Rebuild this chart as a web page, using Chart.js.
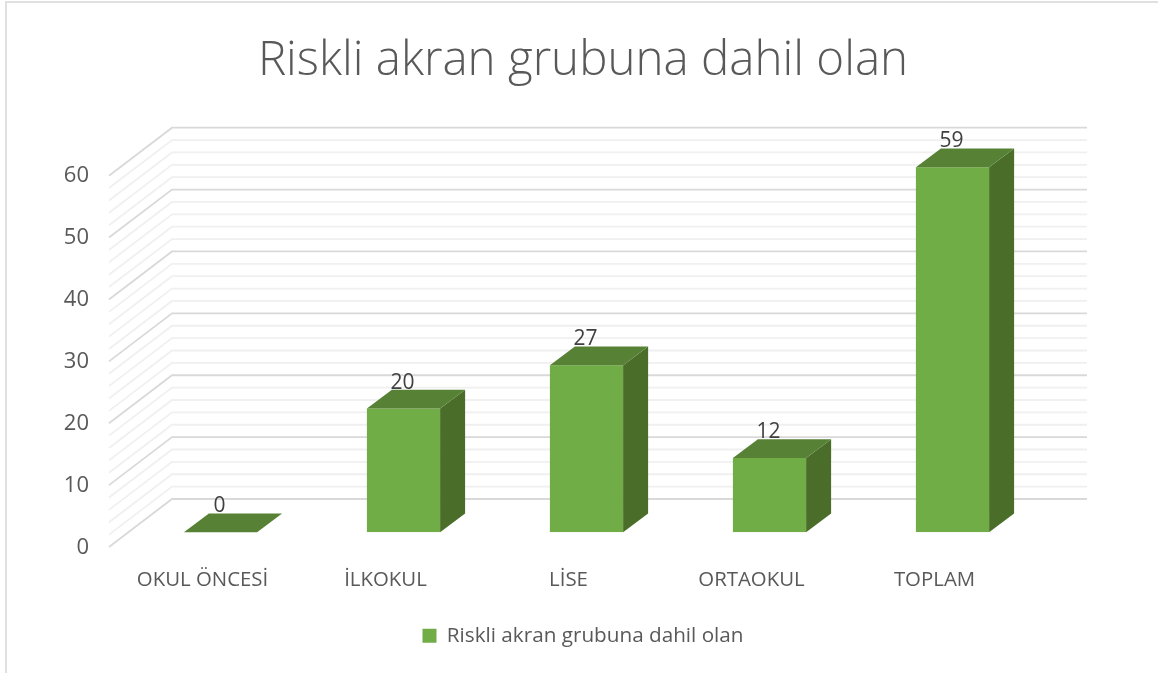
<!DOCTYPE html>
<html lang="tr">
<head>
    <meta charset="UTF-8">
    <title>Riskli akran grubuna dahil olan</title>
    <script src="https://cdn.jsdelivr.net/npm/chart.js"></script>
    <style>
        html, body { margin: 0; padding: 0; background: #fff; overflow: hidden; }
        #wrap { position: relative; width: 1158px; height: 673px; }
        #frame { position: absolute; left: 5px; top: 1px; width: 1153px; height: 672px; border: 2px solid #e0e0e0; border-right: none; border-bottom: none; box-sizing: border-box; }
        canvas { position: absolute; left: 0; top: 0; }
    </style>
</head>
<body>
<div id="wrap">
    <div id="frame"></div>
    <canvas id="riskChart" width="1158" height="673"></canvas>
</div>
<script>
const seriesName = 'Riskli akran grubuna dahil olan';
const categories = ['OKUL ÖNCESİ', 'İLKOKUL', 'LİSE', 'ORTAOKUL', 'TOPLAM'];
const values = [0, 20, 27, 12, 59];
const minorGrid = [2, 4, 6, 8, 12, 14, 16, 18, 22, 24, 26, 28, 32, 34, 36, 38, 42, 44, 46, 48, 52, 54, 56, 58];
const majorGrid = [0, 10, 20, 30, 40, 50, 60];

const fontName = '"Open Sans", sans-serif';
const wall = { dx: 43, dy: -33.3 };   // arka duvar, cubuklara gore
const front = { dx: -20, dy: 14.7 };  // on kenar
const depth = { dx: 25, dy: -18.7 };  // cubuk derinligi
const wallRight = 1087;

// 3D duvar cizgileri
const wallPlugin = {
    id: 'wall',
    beforeDatasetsDraw(chart) {
        const y = chart.scales.y;
        const left = chart.chartArea.left;
        const ctx = chart.ctx;
        const line = (v, color, width) => {
            const py = y.getPixelForValue(v);
            ctx.beginPath();
            ctx.moveTo(left + front.dx, py + front.dy);
            ctx.lineTo(left + wall.dx, py + wall.dy);
            ctx.lineTo(wallRight, py + wall.dy);
            ctx.strokeStyle = color;
            ctx.lineWidth = width;
            ctx.stroke();
        };
        ctx.save();
        minorGrid.forEach(v => line(v, '#f0f0f0', 1.8));
        majorGrid.forEach(v => line(v, '#d9d9d9', 1.8));
        ctx.restore();
    }
};

// cubuklarin ust ve yan yuzleri + deger etiketleri
const barPlugin = {
    id: 'bar3d',
    afterDatasetsDraw(chart) {
        const ctx = chart.ctx;
        const bars = chart.getDatasetMeta(0).data;
        ctx.save();
        bars.forEach((bar, i) => {
            const l = bar.x - bar.width / 2;
            const r = bar.x + bar.width / 2;
            ctx.fillStyle = '#4a6e2a';
            ctx.beginPath();
            ctx.moveTo(r, bar.y);
            ctx.lineTo(r + depth.dx, bar.y + depth.dy);
            ctx.lineTo(r + depth.dx, bar.base + depth.dy);
            ctx.lineTo(r, bar.base);
            ctx.closePath();
            ctx.fill();
            ctx.fillStyle = '#578134';
            ctx.beginPath();
            ctx.moveTo(l, bar.y);
            ctx.lineTo(l + depth.dx, bar.y + depth.dy);
            ctx.lineTo(r + depth.dx, bar.y + depth.dy);
            ctx.lineTo(r, bar.y);
            ctx.closePath();
            ctx.fill();
        });
        ctx.fillStyle = '#404040';
        ctx.font = '21px ' + fontName;
        ctx.textAlign = 'center';
        ctx.textBaseline = 'middle';
        bars.forEach((bar, i) => {
            ctx.fillText(String(values[i]), bar.x - 1, bar.y - 26);
        });
        ctx.restore();
    }
};

new Chart(document.getElementById('riskChart').getContext('2d'), {
    type: 'bar',
    data: {
        labels: categories,
        datasets: [{
            label: seriesName,
            data: values,
            backgroundColor: '#70ad47',
            barPercentage: 0.4,
            categoryPercentage: 1
        }]
    },
    options: {
        responsive: false,
        animation: false,
        layout: { autoPadding: false, padding: { left: 8, right: 0, top: 0, bottom: 17 } },
        plugins: {
            title: {
                display: true,
                text: seriesName,
                color: '#595959',
                font: { family: fontName, size: 47.5, weight: '300' },
                padding: { top: 32.5, bottom: 71.5 }
            },
            legend: {
                position: 'bottom',
                labels: {
                    color: '#595959',
                    font: { family: fontName, size: 20.7 },
                    boxWidth: 14,
                    boxHeight: 14,
                    padding: 6
                }
            },
            tooltip: { enabled: false }
        },
        scales: {
            x: {
                grid: { display: false },
                border: { display: false },
                afterFit(scale) { scale.height = 87; },
                ticks: { color: '#595959', font: { family: fontName, size: 20.4 }, labelOffset: -18, padding: 28, maxRotation: 0 }
            },
            y: {
                min: 0,
                max: 60,
                grid: { display: false },
                border: { display: false },
                afterFit(scale) { scale.width = 121; },
                ticks: { color: '#595959', font: { family: fontName, size: 22 }, stepSize: 10, labelOffset: 15, padding: 32 }
            },
            // sag bosluk: baslik ve lejant ortalansin diye
            spacer: {
                position: 'right',
                grid: { display: false },
                border: { display: false },
                ticks: { display: false },
                afterFit(scale) { scale.width = 114; }
            }
        }
    },
    plugins: [wallPlugin, barPlugin]
});
</script>
</body>
</html>
